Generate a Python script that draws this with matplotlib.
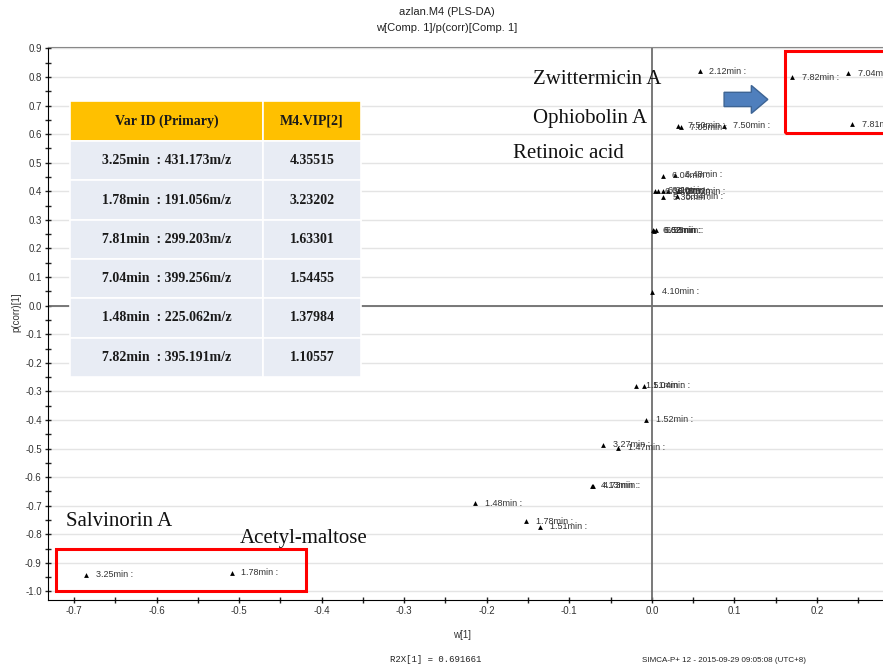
import matplotlib
matplotlib.use("Agg")
import matplotlib.pyplot as plt
from matplotlib.patches import Rectangle, FancyArrow
from matplotlib.ticker import MultipleLocator

# loadings: w[1] vs p(corr)[1]
var_labels = [
    "2.12min :", "7.82min :", "7.04min :", "7.81min :",
    "7.50min :", "7.05min :", "7.50min :",
    "6.04min :", "6.48min :",
    "6.38min :", "6.31min :", "6.20min :", "6.27min :", "8.62min :",
    "5.30min :", "5.04min :",
    "6.62min :", "6.58min :", "6.55min :",
    "4.10min :",
    "1.51min :", "1.04min :", "1.52min :",
    "3.27min :", "1.47min :",
    "4.13min :", "4.73min :",
    "1.48min :", "1.78min :", "1.51min :",
    "3.25min :", "1.78min :",
]
w1 = [
    0.058, 0.170, 0.238, 0.243,
    0.032, 0.035, 0.087,
    0.013, 0.028,
    0.004, 0.008, 0.013, 0.020, 0.032,
    0.014, 0.030,
    0.0015, 0.003, 0.005,
    0.0005,
    -0.019, -0.010, -0.007,
    -0.059, -0.041,
    -0.073, -0.071,
    -0.214, -0.152, -0.1355,
    -0.685, -0.509,
]
pcorr1 = [
    0.820, 0.800, 0.813, 0.634,
    0.630, 0.625, 0.630,
    0.455, 0.458,
    0.400, 0.402, 0.402, 0.400, 0.400,
    0.380, 0.383,
    0.264, 0.262, 0.264,
    0.049,
    -0.281, -0.281, -0.400,
    -0.487, -0.498,
    -0.630, -0.630,
    -0.691, -0.755, -0.773,
    -0.942, -0.934,
]

# VIP table
vip_ids = ["3.25min  : 431.173m/z", "1.78min  : 191.056m/z", "7.81min  : 299.203m/z",
           "7.04min  : 399.256m/z", "1.48min  : 225.062m/z", "7.82min  : 395.191m/z"]
vip_vals = ["4.35515", "3.23202", "1.63301", "1.54455", "1.37984", "1.10557"]

serif = "Liberation Serif"
sans = "Liberation Sans"

fig = plt.figure(figsize=(8.83, 6.70), dpi=100)
ax = fig.add_axes([48 / 883, 1 - 600 / 670, 1 - 48 / 883, (600 - 47) / 670])

ax.set_xlim(-0.7315, 0.28)
ax.set_ylim(-1.03, 0.905)

ax.xaxis.set_major_locator(MultipleLocator(0.1))
ax.xaxis.set_minor_locator(MultipleLocator(0.05))
ax.yaxis.set_major_locator(MultipleLocator(0.1))
ax.yaxis.set_minor_locator(MultipleLocator(0.05))
ax.xaxis.set_major_formatter(lambda v, p: f"{v:.1f}".replace("-0.0", "0.0"))
ax.yaxis.set_major_formatter(lambda v, p: f"{v:.1f}".replace("-0.0", "0.0"))
ax.tick_params(which="both", direction="inout", length=5, width=1, colors="#222222",
               labelsize=7, labelcolor="#333333", pad=2)
ax.tick_params(which="minor", length=4)
for lbl in ax.get_xticklabels() + ax.get_yticklabels():
    lbl.set_fontfamily(sans)

ax.grid(axis="y", which="major", color="#e4e4e4", lw=1)
ax.set_axisbelow(True)
ax.spines["right"].set_visible(False)
ax.spines["top"].set_color("#888888")
ax.axhline(0, color="#6e6e6e", lw=1.3, zorder=1)
ax.axvline(0, color="#6e6e6e", lw=1.3, zorder=1)

ax.set_xlabel("w[1]", fontsize=7, family=sans, color="#333333")
ax.xaxis.set_label_coords((462 - 48) / 835, -0.055)
ax.set_ylabel("p(corr)[1]", fontsize=7, family=sans, color="#333333")
ax.yaxis.set_label_coords(-0.04 + 7 / 835, 0.52)

ax.scatter(w1, pcorr1, marker="^", s=12, color="black", zorder=3, linewidths=0)
for x, y, t in zip(w1, pcorr1, var_labels):
    ax.annotate(t, (x, y), xytext=(7, 0), textcoords="offset points", va="center",
                fontsize=6.5, family=sans, color="#333333", zorder=3)

# highlight boxes
ax.add_patch(Rectangle((0.161, 0.603), 0.2, 0.287, fill=False, ec="red", lw=2.2, zorder=4))
ax.add_patch(Rectangle((-0.722, -0.998), 0.303, 0.147, fill=False, ec="red", lw=2.2, zorder=4))
ax.add_patch(FancyArrow(0.0875, 0.7215, 0.053, 0, width=0.05, head_width=0.098,
                        head_length=0.02, length_includes_head=True,
                        fc="#4f7fbd", ec="#3d6494", lw=1, zorder=4))

# compound names
names = [("Zwittermicin A", 533, 80), ("Ophiobolin A", 533, 119), ("Retinoic acid", 513, 154),
         ("Salvinorin A", 66, 521), ("Acetyl-maltose", 240, 539)]
for t, px, py in names:
    fig.text(px / 883, 1 - py / 670, t, fontsize=15, family=serif, va="center", ha="left",
             color="#111111")

fig.text(447 / 883, 1 - 12 / 670, "azlan.M4 (PLS-DA)", ha="center", va="center",
         fontsize=8, family=sans, color="#222222")
fig.text(447 / 883, 1 - 28 / 670, "w[Comp. 1]/p(corr)[Comp. 1]", ha="center", va="center",
         fontsize=8, family=sans, color="#222222")
fig.text(390 / 883, 1 - 660 / 670, "R2X[1] = 0.691661", ha="left", va="center",
         fontsize=6.5, family="Liberation Mono", color="#222222")
fig.text(642 / 883, 1 - 661 / 670, "SIMCA-P+ 12 - 2015-09-29 09:05:08 (UTC+8)", ha="left",
         va="center", fontsize=5.8, family=sans, color="#222222")

# VIP table
tax = fig.add_axes([70 / 883, 1 - 377 / 670, 291 / 883, 276 / 670])
tax.axis("off")
cells = [[a, b] for a, b in zip(vip_ids, vip_vals)]
tbl = tax.table(cellText=cells, colLabels=["Var ID (Primary)", "M4.VIP[2]"],
                colWidths=[193 / 291, 98 / 291], bbox=[0, 0, 1, 1], cellLoc="center")
tbl.auto_set_font_size(False)
for (r, c), cell in tbl.get_celld().items():
    cell.set_edgecolor("white")
    cell.set_linewidth(1.2)
    cell.set_facecolor("#ffc000" if r == 0 else "#e8ecf4")
    cell.get_text().set_fontfamily(serif)
    cell.get_text().set_fontweight("bold")
    cell.get_text().set_fontsize(10)
    cell.get_text().set_color("#1a1a1a")
    if r == 0:
        cell.set_height(40 / 276)
    else:
        cell.set_height(236 / 6 / 276)

fig.savefig("out.png", dpi=100)
